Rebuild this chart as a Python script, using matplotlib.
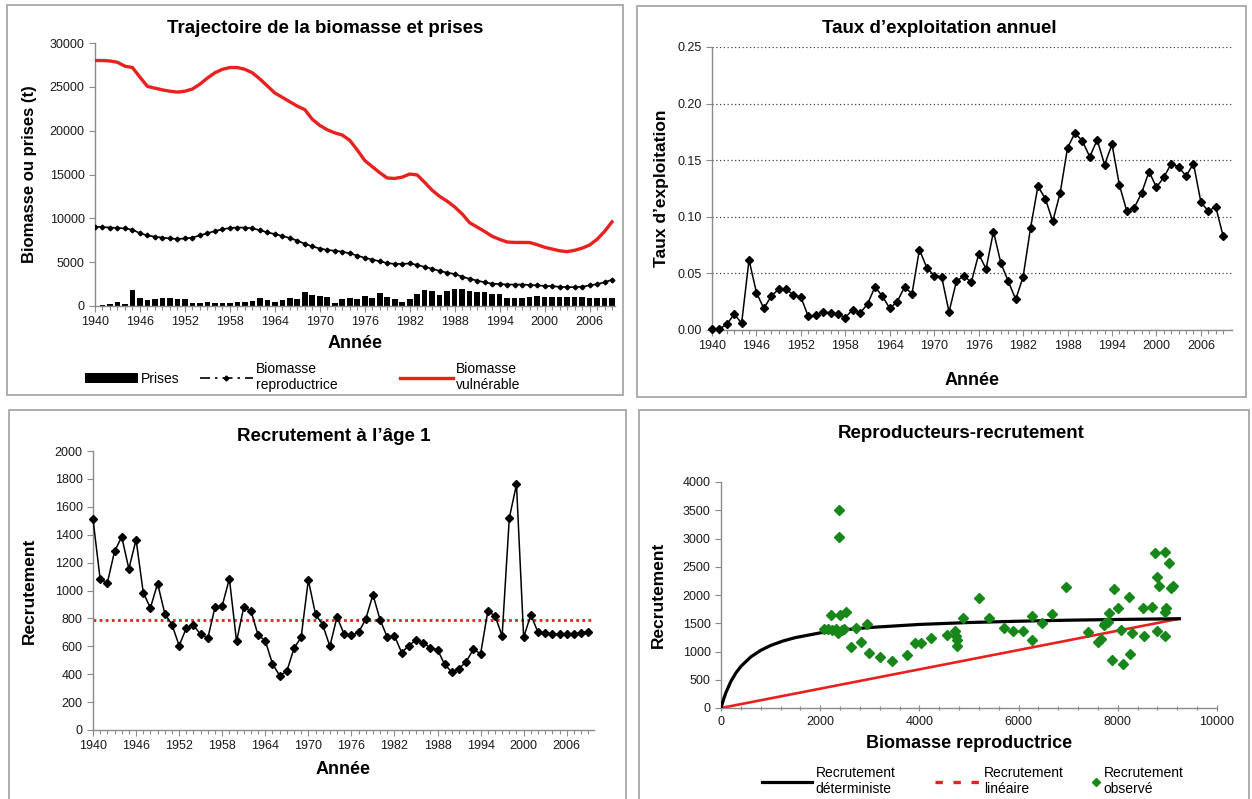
import numpy as np
import matplotlib
matplotlib.use('Agg')
import matplotlib.pyplot as plt
from matplotlib.lines import Line2D
from matplotlib.patches import Patch, Rectangle

plt.rcParams['font.family'] = ['Liberation Sans', 'DejaVu Sans']

# annual series 1940-2009
years = np.arange(1940, 2010)

catches = [50, 80, 200, 400, 250, 1800, 950, 700, 850, 900,
           900, 820, 750, 300, 330, 400, 390, 370, 300, 450,
           420, 560, 900, 700, 500, 650, 900, 780, 1650, 1300,
           1120, 1050, 320, 850, 950, 850, 1180, 950, 1450, 980,
           760, 500, 800, 1370, 1850, 1700, 1260, 1700, 1950, 1950,
           1750, 1600, 1550, 1400, 1330, 950, 880, 950, 1000, 1100,
           990, 1050, 1050, 1000, 1050, 1000, 900, 900, 950, 900]

spawning_biomass = [9050, 9000, 8950, 8900, 8850, 8700, 8300, 8050, 7900, 7800,
                    7700, 7650, 7700, 7800, 8050, 8300, 8550, 8750, 8900, 8950,
                    8950, 8850, 8650, 8400, 8200, 8000, 7750, 7450, 7100, 6800,
                    6550, 6400, 6300, 6200, 6000, 5750, 5500, 5300, 5100, 4900,
                    4800, 4800, 4850, 4700, 4450, 4250, 4000, 3800, 3650, 3350,
                    3100, 2900, 2700, 2550, 2500, 2450, 2450, 2450, 2400, 2350,
                    2300, 2250, 2200, 2150, 2150, 2200, 2350, 2500, 2700, 3000]

vulnerable_biomass = [28000, 28000, 27950, 27800, 27350, 27200, 26100, 25050, 24850, 24650,
                      24500, 24400, 24500, 24750, 25300, 26000, 26600, 27000, 27200, 27200,
                      27000, 26600, 25900, 25100, 24300, 23800, 23300, 22800, 22400, 21300,
                      20600, 20100, 19750, 19500, 18900, 17800, 16600, 15900, 15200, 14600,
                      14550, 14700, 15050, 14950, 14100, 13200, 12500, 11950, 11300, 10500,
                      9500, 9000, 8500, 7950, 7600, 7300, 7250, 7250, 7240, 7000,
                      6700, 6500, 6300, 6200, 6350, 6600, 6950, 7600, 8500, 9600]

exploitation_rate = [0.001, 0.001, 0.005, 0.014, 0.006, 0.062, 0.033, 0.019, 0.030, 0.036,
                     0.036, 0.031, 0.029, 0.012, 0.013, 0.016, 0.015, 0.014, 0.011, 0.018,
                     0.015, 0.023, 0.038, 0.030, 0.019, 0.025, 0.038, 0.032, 0.071, 0.055,
                     0.048, 0.047, 0.016, 0.043, 0.048, 0.042, 0.067, 0.054, 0.087, 0.059,
                     0.043, 0.027, 0.047, 0.090, 0.127, 0.116, 0.096, 0.121, 0.161, 0.174,
                     0.167, 0.153, 0.168, 0.146, 0.164, 0.128, 0.105, 0.108, 0.121, 0.140,
                     0.126, 0.135, 0.147, 0.144, 0.136, 0.147, 0.113, 0.105, 0.109, 0.083]

recruitment = [1510, 1080, 1055, 1280, 1385, 1155, 1365, 985, 875, 1050,
               835, 755, 605, 730, 750, 685, 660, 880, 890, 1085,
               635, 880, 855, 680, 640, 475, 390, 420, 585, 665,
               1075, 830, 755, 600, 810, 685, 680, 700, 795, 970,
               790, 665, 675, 555, 605, 645, 625, 590, 575, 470,
               415, 440, 490, 580, 545, 850, 820, 675, 1520, 1760,
               665, 825, 700, 695, 690, 685, 685, 690, 695, 705]
mean_recruitment = 790

# stock-recruitment: observed pairs
sr_spawners = [2376, 2376, 2080, 2160, 2224, 2240, 2320, 2360, 2400, 2440,
               2480, 2520, 2624, 2720, 2816, 2944, 2976, 3200, 3456, 3760,
               3920, 4040, 4240, 4560, 4720, 4744, 4768, 4768, 4880, 5200,
               5400, 5696, 5880, 6096, 6280, 6280, 6480, 6680, 6960, 7400,
               7600, 7664, 7720, 7744, 7800, 7824, 7888, 7920, 8000, 8056,
               8096, 8224, 8256, 8280, 8504, 8528, 8680, 8760, 8800, 8824,
               8800, 8960, 8976, 8944, 8960, 9040, 9064, 9104]
sr_recruits = [3500, 3030, 1394, 1394, 1647, 1382, 1394, 1324, 1647, 1382,
               1394, 1706, 1088, 1412, 1176, 1488, 982, 894, 835, 941,
               1159, 1159, 1247, 1294, 1365, 1276, 1206, 1100, 1588, 1941,
               1588, 1412, 1365, 1371, 1629, 1206, 1512, 1659, 2147, 1353,
               1176, 1218, 1471, 1512, 1529, 1676, 853, 2100, 1765, 1382,
               776, 1971, 953, 1324, 1765, 1276, 1782, 2735, 2312, 2159,
               1365, 2765, 1765, 1706, 1276, 2559, 2118, 2159]

# deterministic recruitment curve
det_spawners = [0, 50, 100, 200, 300, 400, 600, 800, 1000, 1250,
                1500, 2000, 2500, 3000, 4000, 5000, 6000, 7000, 8000, 9240]
det_recruits = [0, 150, 275, 472, 620, 736, 904, 1020, 1106, 1186,
                1246, 1330, 1386, 1425, 1479, 1513, 1536, 1554, 1567, 1580]

# linear recruitment
lin_spawners = [0, 9240]
lin_recruits = [0, 1580]

RED = '#e8201e'
GREEN = '#17871a'
GREY = '#8a8a8a'
W, H = 1252, 799

fig = plt.figure(figsize=(W / 100, H / 100), dpi=100)


def px_axes(x0, y0, x1, y1):
    return fig.add_axes([x0 / W, 1 - y1 / H, (x1 - x0) / W, (y1 - y0) / H])


def px_box(x0, y0, x1, y1):
    fig.patches.append(Rectangle((x0 / W, 1 - y1 / H), (x1 - x0) / W, (y1 - y0) / H,
                                 transform=fig.transFigure, fill=False,
                                 edgecolor='#a0a0a0', lw=1.2))


def style_axes(ax):
    for s in ['top', 'right']:
        ax.spines[s].set_visible(False)
    for s in ['left', 'bottom']:
        ax.spines[s].set_color(GREY)
        ax.spines[s].set_linewidth(1.0)
    ax.tick_params(colors=GREY, labelcolor='#1a1a1a', labelsize=9, length=4, width=0.8)
    ax.tick_params(which='minor', colors=GREY, length=3, width=0.8)


def year_axis(ax, xmax):
    ax.set_xlim(1940, xmax)
    ax.set_xticks(range(1940, 2007, 6))
    ax.set_xticks(years, minor=True)


def legend_entry(handle, label, x, y, hlen):
    fig.legend([handle], [label], loc='center left', bbox_to_anchor=(x / W, 1 - y / H),
               bbox_transform=fig.transFigure, frameon=False, fontsize=10,
               handlelength=hlen, handletextpad=0.25, borderpad=0, borderaxespad=0,
               numpoints=1)


# panel frames
px_box(7, 5, 623, 395)
px_box(637, 6, 1246, 397)
px_box(9, 410, 626, 810)
px_box(639, 410, 1249, 810)

# biomass and catches
ax1 = px_axes(95, 43, 615, 306)
ax1.bar(years, catches, width=0.75, color='black', zorder=2)
ax1.plot(years, spawning_biomass, color='black', lw=1.2, marker='D', ms=2.4, zorder=3)
ax1.plot(years, vulnerable_biomass, color=RED, lw=2.4, zorder=3)
ax1.set_ylim(0, 30000)
ax1.set_yticks(range(0, 30001, 5000))
year_axis(ax1, 2009.4)
style_axes(ax1)
ax1.set_title('Trajectoire de la biomasse et prises', fontsize=13.5, fontweight='bold',
              pad=7, x=0.442)
ax1.set_xlabel('Année', fontsize=13, fontweight='bold', labelpad=5)
ax1.set_ylabel('Biomasse ou prises (t)', fontsize=12, fontweight='bold', labelpad=9)

legend_entry(Patch(facecolor='black'), 'Prises', 85, 379, 3.8)
legend_entry(Line2D([], [], color='black', lw=1.2, ls=(0, (6, 3, 1.5, 3)), marker='D', ms=2.5),
             'Biomasse\nreproductrice', 200, 377, 3.8)
legend_entry(Line2D([], [], color=RED, lw=2.4), 'Biomasse\nvulnérable', 400, 377, 3.8)

# exploitation rate
ax2 = px_axes(712, 47, 1232, 330)
ax2.plot(years, exploitation_rate, color='black', lw=1.1, marker='D', ms=4.2, clip_on=False, zorder=3)
ax2.set_ylim(0, 0.25)
ax2.set_yticks(np.arange(0, 0.2501, 0.05))
ax2.yaxis.set_major_formatter(matplotlib.ticker.FormatStrFormatter('%.2f'))
ax2.yaxis.grid(True, color='#444444', ls=(0, (1, 2)), lw=0.9)
year_axis(ax2, 2010.2)
style_axes(ax2)
ax2.set_title('Taux d\u2019exploitation annuel', fontsize=13.5, fontweight='bold', pad=10, x=0.438)
ax2.set_xlabel('Année', fontsize=13, fontweight='bold', labelpad=14)
ax2.set_ylabel('Taux d\u2019exploitation', fontsize=12.5, fontweight='bold', labelpad=6)

# recruitment at age 1
ax3 = px_axes(93, 451, 594, 730)
ax3.axhline(mean_recruitment, color=RED, ls=(0, (1, 1.2)), lw=2.0, zorder=2)
ax3.plot(years, recruitment, color='black', lw=1.1, marker='D', ms=4.2, clip_on=False, zorder=3)
ax3.set_ylim(0, 2000)
ax3.set_yticks(range(0, 2001, 200))
year_axis(ax3, 2009.8)
style_axes(ax3)
ax3.set_title('Recrutement à l\u2019âge 1', fontsize=13.5, fontweight='bold', pad=7, x=0.481)
ax3.set_xlabel('Année', fontsize=13, fontweight='bold', labelpad=6)
ax3.set_ylabel('Recrutement', fontsize=12.5, fontweight='bold', labelpad=13)

# stock-recruitment
ax4 = px_axes(721, 482, 1217, 708)
ax4.plot(lin_spawners, lin_recruits, color=RED, lw=1.9, zorder=2)
ax4.plot(det_spawners, det_recruits, color='black', lw=2.3, zorder=3)
ax4.plot(sr_spawners, sr_recruits, ls='none', marker='D', ms=4.6, color=GREEN, zorder=4)
ax4.set_xlim(0, 10000)
ax4.set_ylim(0, 4000)
ax4.set_xticks(range(0, 10001, 2000))
ax4.set_xticks(range(0, 10001, 400), minor=True)
ax4.set_yticks(range(0, 4001, 500))
style_axes(ax4)
ax4.tick_params(axis='x', which='both', direction='inout')
ax4.set_title('Reproducteurs-recrutement', fontsize=13.5, fontweight='bold', pad=32, x=0.484)
ax4.set_xlabel('Biomasse reproductrice', fontsize=13, fontweight='bold', labelpad=5)
ax4.set_ylabel('Recrutement', fontsize=12.5, fontweight='bold', labelpad=12)

legend_entry(Line2D([], [], color='black', lw=2.3), 'Recrutement\ndéterministe', 762, 781, 3.6)
legend_entry(Line2D([], [], color=RED, lw=2.4, ls=(0, (2.2, 3.2))), 'Recrutement\nlinéaire', 935, 781, 3.3)
legend_entry(Line2D([], [], ls='none', marker='D', ms=4, color=GREEN), 'Recrutement\nobservé',
             1092, 781, 0.6)

fig.savefig('out.png', dpi=100)
